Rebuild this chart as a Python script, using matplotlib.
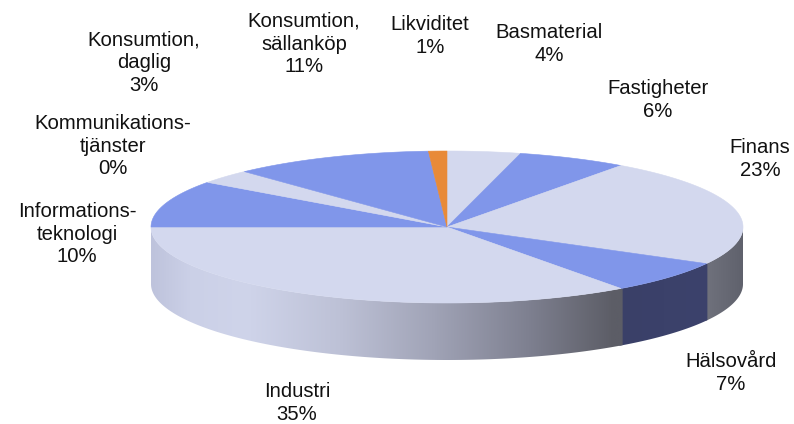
import numpy as np
import matplotlib
matplotlib.use("Agg")
import matplotlib.pyplot as plt
from matplotlib.patches import Polygon
from matplotlib.colors import LinearSegmentedColormap

plt.rcParams['font.family'] = ['Liberation Sans', 'DejaVu Sans']

categories = ["Basmaterial", "Fastigheter", "Finans", "Hälsovård", "Industri",
              "Informations-\nteknologi", "Kommunikations-\ntjänster",
              "Konsumtion,\ndaglig", "Konsumtion,\nsällanköp", "Likviditet"]
values = [4, 6, 23, 7, 35, 10, 0, 3, 11, 1]
LIGHT, BLUE, ORANGE = "#D3D8EE", "#8096EA", "#E88A38"
top_colors = [LIGHT, BLUE, LIGHT, BLUE, LIGHT, BLUE, LIGHT, LIGHT, BLUE, ORANGE]
label_pos = [(549, 44), (658, 100), (760, 159), (731, 373), (297, 403),
             (77, 234), (113, 146), (144, 63), (304, 44), (430, 36)]

W, H = 794, 424
cx, cy, a, b, depth = 447, 227, 296, 76, 57

fig = plt.figure(figsize=(W / 100, H / 100), dpi=100)
ax = fig.add_axes([0, 0, 1, 1])
ax.set_xlim(0, W)
ax.set_ylim(H, 0)
ax.axis("off")


def rim(t0, t1, dy=0):
    t = np.radians(np.linspace(t0, t1, max(int(abs(t1 - t0) * 2), 2)))
    return np.column_stack([cx + a * np.sin(t), cy + dy - b * np.cos(t)])


side_cmap = LinearSegmentedColormap.from_list("side", [
    (0.00, "#BEC3DC"), (0.08, "#CBD0E7"), (0.20, "#CFD4EA"), (0.40, "#BDC1D6"),
    (0.60, "#A0A3B6"), (0.80, "#7E8090"), (0.98, "#5C5D66"), (1.00, "#5C5D66")])
dark_cmap = LinearSegmentedColormap.from_list("dark", ["#3A4068", "#3C426C"])
grey_cmap = LinearSegmentedColormap.from_list("grey", ["#70727D", "#5F616C"])
side_map = {LIGHT: side_cmap, BLUE: dark_cmap}

start = np.concatenate([[0], np.cumsum(values)[:-1]]) * 3.6
end = np.cumsum(values) * 3.6

# side wall
for s, e, col in zip(start, end, top_colors):
    lo, hi = max(s, 90), min(e, 270)
    if hi <= lo:
        continue
    top = rim(max(lo - 0.4, 90), min(hi + 0.4, 270))
    bot = rim(min(hi + 0.4, 270), max(lo - 0.4, 90), depth)
    poly = Polygon(np.vstack([top, bot]), closed=True, fc="none", ec="none")
    ax.add_patch(poly)
    x0, x1 = top[:, 0].min(), top[:, 0].max()
    cmap = side_map[col]
    if s < 90 + 30 and col == LIGHT:
        cmap = grey_cmap
    im = ax.imshow(np.linspace(0, 1, 256)[None, :], cmap=cmap, aspect="auto",
                   extent=[x0 - 0.5, x1 + 0.5, cy + depth + b + 5, cy - 5],
                   vmin=0, vmax=1, zorder=2)
    im.set_clip_path(poly)

ax.set_xlim(0, W)
ax.set_ylim(H, 0)

# top surface
for s, e, col in zip(start, end, top_colors):
    if e <= s:
        continue
    ax.add_patch(Polygon(np.vstack([[cx, cy], rim(s, e)]), closed=True,
                         fc=col, ec=col, lw=0.4, zorder=3))

# percentage labels
for name, v, (x, y) in zip(categories, values, label_pos):
    ax.text(x, y, f"{name}\n{v}%", ha="center", va="center", fontsize=14.6,
            color="#111111", linespacing=1.26, zorder=5)

fig.savefig("out.png", dpi=100)
